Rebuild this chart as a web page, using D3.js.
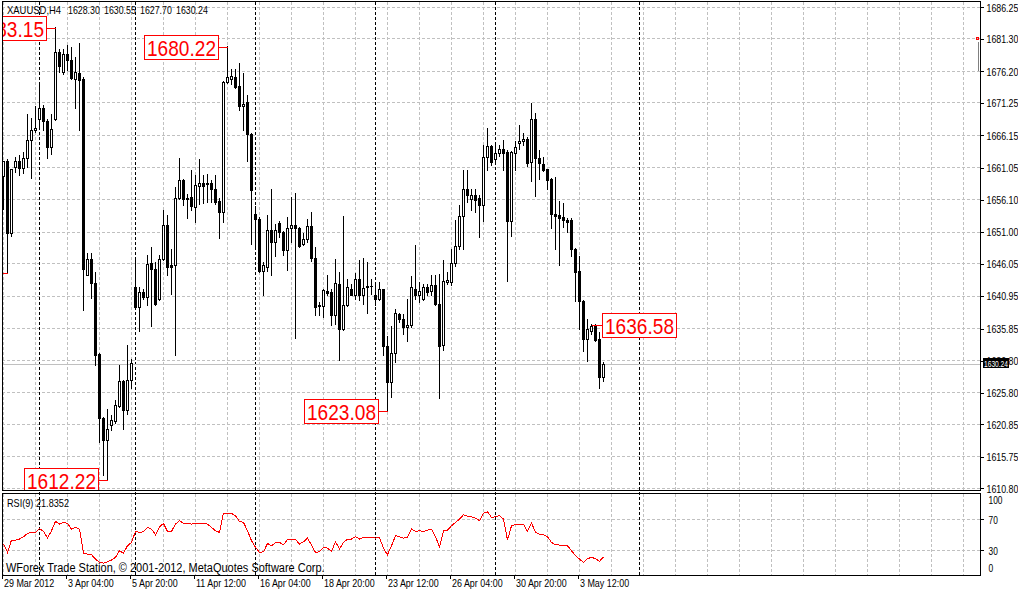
<!DOCTYPE html>
<html>
<head>
<meta charset="utf-8">
<script src="https://cdn.jsdelivr.net/npm/d3@7"></script>
<style>
  body { margin: 0; background: #fff; }
  text { font-family: "Liberation Sans", Arial, sans-serif; }
</style>
</head>
<body>
<svg id="chart" width="1018" height="592"></svg>
<script>
// XAUUSD H4 bars, 29 Mar 2012 12:00 .. 4 May 2012 12:00
let symbolName = "XAUUSD,H4";
let lastQuote = ["1628.30", "1630.55", "1627.70", "1630.24"];

let opens = [1659.74,1662.10,1650.85,1661.21,1662.20,1661.05,1662.67,1665.39,1667.06,1668.79,
  1670.52,1668.37,1664.35,1668.79,1679.25,1676.11,1678.99,1678.05,1675.06,1676.01,
  1674.96,1644.32,1646.83,1643.06,1631.93,1621.89,1618.33,1620.79,1621.31,1623.72,
  1627.59,1623.04,1627.74,1642.38,1639.25,1641.60,1640.82,1646.20,1645.16,1640.45,
  1646.83,1652.06,1645.78,1645.78,1656.35,1659.12,1656.35,1656.45,1654.93,1658.23,
  1658.75,1658.75,1658.75,1657.70,1655.82,1654.15,1674.54,1675.06,1675.33,1673.86,
  1670.78,1671.40,1666.44,1653.89,1653.10,1644.84,1645.52,1651.38,1649.44,1652.48,
  1651.01,1648.14,1651.69,1652.06,1651.69,1649.13,1649.97,1651.90,1646.93,1639.35,
  1639.40,1641.70,1641.60,1638.04,1642.91,1635.85,1639.61,1642.12,1641.18,1643.69,
  1641.08,1642.54,1642.54,1641.08,1640.55,1642.02,1633.13,1627.48,1632.08,1638.20,
  1637.31,1636.11,1636.37,1642.12,1641.18,1640.55,1642.38,1641.70,1642.65,1639.77,
  1633.34,1643.17,1643.17,1646.20,1648.76,1653.47,1657.81,1656.24,1656.87,1656.35,
  1655.19,1662.78,1664.45,1662.41,1663.46,1664.08,1663.56,1652.68,1663.46,1664.97,
  1665.34,1665.65,1661.99,1668.69,1662.62,1661.73,1660.84,1659.27,1653.89,1653.63,
  1653.36,1652.95,1652.84,1648.40,1644.84,1640.14,1634.28,1635.43,1636.21,1634.17,
  1628.30];

let highs = [1662.20,1662.41,1660.95,1662.78,1663.04,1663.56,1669.57,1668.89,1670.72,1674.18,
  1670.88,1668.79,1669.57,1683.15,1679.77,1679.77,1680.29,1680.03,1678.46,1680.71,
  1675.33,1647.77,1647.77,1644.74,1632.08,1621.99,1623.30,1622.25,1624.61,1630.20,
  1627.74,1633.34,1631.14,1646.57,1642.38,1642.12,1647.46,1648.61,1646.31,1647.35,
  1654.41,1653.73,1648.40,1658.07,1662.67,1659.38,1657.02,1660.69,1659.90,1662.41,
  1660.01,1660.16,1659.12,1660.01,1656.35,1674.65,1680.22,1676.63,1676.63,1677.57,
  1676.01,1672.45,1666.59,1655.09,1653.36,1646.31,1653.73,1657.70,1652.32,1652.68,
  1651.12,1653.36,1656.50,1657.18,1651.80,1650.91,1653.10,1654.15,1648.66,1640.03,
  1642.12,1644.21,1642.12,1646.72,1644.74,1653.47,1643.69,1642.91,1644.63,1646.57,
  1646.93,1646.31,1643.69,1643.17,1643.17,1642.12,1634.70,1636.21,1638.98,1638.36,
  1638.20,1640.45,1644.11,1649.02,1643.17,1642.91,1642.91,1644.32,1644.21,1644.48,
  1646.57,1644.74,1648.40,1652.84,1655.19,1660.69,1660.69,1657.70,1657.70,1656.76,
  1664.71,1667.38,1664.61,1664.71,1664.61,1665.50,1663.82,1663.67,1665.23,1667.74,
  1666.59,1665.91,1671.30,1669.73,1663.82,1662.78,1660.95,1659.53,1659.64,1655.82,
  1655.61,1653.21,1653.21,1648.50,1647.25,1640.29,1637.42,1636.58,1636.55,1635.32,
  1630.55];

let lows = [1654.67,1644.74,1650.38,1660.42,1659.90,1660.32,1661.21,1659.48,1666.70,1667.22,
  1666.96,1662.62,1663.30,1668.53,1676.11,1675.85,1676.37,1675.06,1670.46,1666.96,
  1638.72,1644.21,1640.66,1630.20,1618.07,1612.94,1612.22,1619.90,1621.10,1623.56,
  1620.16,1622.51,1626.54,1638.98,1635.43,1640.55,1639.51,1636.27,1639.51,1640.29,
  1646.57,1644.21,1641.34,1631.77,1656.24,1655.19,1653.21,1654.41,1652.58,1655.46,
  1655.61,1655.72,1655.72,1655.46,1650.07,1652.58,1674.44,1674.28,1673.60,1670.10,
  1666.96,1662.15,1649.08,1648.40,1644.74,1641.08,1644.84,1644.32,1647.25,1650.23,
  1647.35,1645.00,1649.44,1634.38,1648.66,1648.92,1649.44,1646.41,1638.04,1637.94,
  1637.68,1641.08,1636.47,1636.63,1630.88,1635.59,1639.40,1641.08,1640.55,1640.29,
  1639.77,1638.36,1641.34,1639.51,1640.29,1631.77,1623.08,1625.13,1630.62,1636.89,
  1635.06,1633.86,1636.11,1640.45,1640.03,1640.29,1641.08,1641.08,1639.61,1624.97,
  1632.45,1642.91,1642.65,1645.68,1648.40,1648.40,1655.72,1654.41,1654.15,1650.23,
  1652.68,1660.69,1661.57,1662.10,1662.93,1660.69,1643.27,1650.38,1660.69,1664.08,
  1664.61,1661.37,1658.96,1656.66,1659.27,1660.53,1657.70,1651.64,1648.29,1645.78,
  1651.80,1651.01,1647.25,1640.14,1635.85,1632.29,1630.72,1635.06,1633.86,1626.54,
  1627.70];

let closes = [1662.10,1650.85,1660.95,1662.20,1661.05,1662.67,1665.39,1667.06,1667.38,1670.52,
  1668.37,1664.35,1667.22,1679.25,1677.05,1678.99,1678.05,1675.17,1676.11,1674.80,
  1645.26,1646.83,1643.06,1631.77,1621.83,1618.33,1620.16,1621.47,1623.82,1627.59,
  1623.04,1627.74,1630.51,1639.25,1641.60,1640.82,1646.04,1645.16,1639.72,1646.83,
  1652.06,1645.52,1645.52,1656.35,1659.22,1656.14,1656.14,1655.09,1658.33,1658.75,
  1658.23,1658.54,1657.81,1655.72,1654.15,1674.54,1675.33,1675.54,1673.76,1670.78,
  1671.14,1666.44,1657.65,1653.10,1644.84,1645.78,1651.38,1649.44,1651.38,1651.01,
  1648.14,1651.69,1652.06,1651.69,1648.82,1649.97,1651.90,1646.93,1639.25,1639.51,
  1641.86,1641.49,1637.94,1643.06,1635.85,1639.61,1642.38,1641.18,1643.69,1641.08,
  1642.23,1642.38,1642.50,1640.55,1642.02,1633.13,1627.48,1632.08,1638.36,1637.42,
  1636.11,1636.47,1642.38,1641.18,1641.70,1642.38,1641.60,1642.65,1639.77,1633.13,
  1643.27,1643.43,1646.20,1648.76,1653.47,1657.81,1656.76,1656.87,1655.98,1655.19,
  1662.78,1664.45,1661.99,1663.40,1664.08,1663.40,1652.68,1663.56,1664.29,1665.34,
  1665.65,1661.84,1668.69,1662.62,1661.84,1660.69,1659.22,1653.78,1653.52,1653.21,
  1652.84,1652.58,1648.40,1644.74,1640.14,1634.28,1635.74,1636.21,1634.02,1628.27,
  1630.24];

let rsiValues = [38.2,27.5,43.4,43.4,44.7,47.7,52.0,53.3,53.3,58.4,
  54.6,45.9,55.4,67.5,64.0,66.6,64.9,57.6,59.7,57.6,
  26.2,25.3,24.5,18.9,14.6,13.7,15.4,17.6,21.0,29.6,
  26.6,36.1,40.4,54.6,53.3,54.1,59.7,57.6,50.3,60.6,
  64.9,54.6,54.6,64.0,68.3,64.9,64.9,64.0,65.3,64.9,
  64.9,64.0,59.7,55.4,53.3,78.2,78.2,77.8,74.8,67.5,
  66.2,55.4,42.5,33.9,27.5,28.3,39.1,36.1,40.0,40.4,
  37.4,44.2,44.7,44.2,38.2,41.2,46.0,36.9,27.5,28.3,
  33.9,33.1,28.8,41.2,31.8,40.4,44.7,44.7,47.7,44.7,
  46.8,46.8,46.8,45.9,46.8,32.6,24.5,36.1,49.0,47.7,
  45.9,46.8,57.6,54.6,55.4,54.6,56.3,57.6,47.7,34.8,
  55.4,56.3,61.9,66.2,70.5,76.1,74.4,73.5,71.8,68.3,
  78.2,80.0,72.6,73.5,74.8,70.5,43.4,61.9,63.2,63.2,
  64.0,54.6,65.3,53.3,51.1,50.3,47.7,40.4,37.4,36.9,
  36.9,36.1,29.6,23.2,18.9,14.6,19.5,21.0,19.5,16.0,
  21.8];
let rsiText = "RSI(9) 21.8352";

let timeLabels = ["29 Mar 2012", "3 Apr 04:00", "5 Apr 20:00", "11 Apr 12:00", "16 Apr 04:00",
  "18 Apr 20:00", "23 Apr 12:00", "26 Apr 04:00", "30 Apr 20:00", "3 May 12:00"];
let timeLabelBars = [0, 16, 32, 48, 64, 80, 96, 112, 128, 144];

let priceTicks = [1686.25, 1681.30, 1676.20, 1671.25, 1666.15, 1661.05, 1656.10, 1651.00,
  1646.05, 1640.95, 1635.85, 1630.80, 1625.80, 1620.85, 1615.75, 1610.80];
let rsiTicks = [100, 70, 30, 0];
let rsiLevels = [70, 30];

// week separators (bar numbers, the last one in the empty future area)
let weekStartBars = [9, 33, 63, 93, 123, 159];

// zigzag swing labels
let swingBars = [1, 13, 26, 56, 96, 147];
let swingPrices = [1644.74, 1683.15, 1612.22, 1680.22, 1623.08, 1636.58];
let swingSides = [-1, -1, -1, -1, -1, 1];

let bidPrice = 1630.24;
let copyright = "WForex Trade Station, \u00a9 2001-2012, MetaQuotes Software Corp.";

let frame = {left: 2, right: 980, top: 1, bottom: 490, subTop: 493, subBottom: 575};

let svg = d3.select("#chart");

let x = d3.scaleLinear().domain([0, 240]).range([3, 963]);
let y = d3.scaleLinear().domain([1610.80, 1686.25]).range([488.3, 7.3]);
let yR = d3.scaleLinear().domain([0, 100]).range([573.7, 496.2]);

function px(v) { return Math.floor(v) + 0.5; }

function condense(sel, k) {
    sel.each(function() {
        let w = this.getComputedTextLength();
        d3.select(this).attr("textLength", (w * k).toFixed(1)).attr("lengthAdjust", "spacingAndGlyphs");
    });
}

svg.append("rect").attr("width", 1018).attr("height", 592).attr("fill", "#fff");

svg.append("defs").append("clipPath").attr("id", "plotClip")
    .append("rect")
    .attr("x", frame.left + 1).attr("y", frame.top + 1)
    .attr("width", frame.right - frame.left - 1).attr("height", frame.bottom - frame.top - 1);

// grid
let grid = svg.append("g")
    .attr("stroke", "#c0c0c0")
    .attr("stroke-dasharray", "3,2")
    .attr("shape-rendering", "crispEdges");

grid.selectAll(".hgrid")
    .data(priceTicks)
    .enter()
    .append("line")
    .attr("x1", frame.left).attr("x2", frame.right)
    .attr("y1", function(d) { return px(y(d)); })
    .attr("y2", function(d) { return px(y(d)); });

grid.selectAll(".rgrid")
    .data(rsiLevels)
    .enter()
    .append("line")
    .attr("x1", frame.left).attr("x2", frame.right)
    .attr("y1", function(d) { return px(yR(d)); })
    .attr("y2", function(d) { return px(yR(d)); });

let gridBars = d3.range(0, 241, 8);
grid.selectAll(".vgrid")
    .data(gridBars)
    .enter()
    .append("path")
    .attr("d", function(d) {
        let gx = x(d) + 0.5;
        return "M" + gx + "," + (frame.top + 1) + "V" + frame.bottom +
            "M" + gx + "," + (frame.subTop + 1) + "V" + frame.subBottom;
    });

// week separators
svg.append("g")
    .attr("stroke", "#000")
    .attr("stroke-dasharray", "3,2")
    .attr("shape-rendering", "crispEdges")
    .selectAll("line")
    .data(weekStartBars)
    .enter()
    .append("line")
    .attr("x1", function(d) { return x(d) + 0.5; })
    .attr("x2", function(d) { return x(d) + 0.5; })
    .attr("y1", frame.top + 1)
    .attr("y2", frame.subBottom);

// bid line
svg.append("line")
    .attr("x1", frame.left).attr("x2", frame.right)
    .attr("y1", px(y(bidPrice))).attr("y2", px(y(bidPrice)))
    .attr("stroke", "#c0c0c0")
    .attr("shape-rendering", "crispEdges");

// candles
let bars = d3.range(opens.length);
let candles = svg.append("g")
    .attr("clip-path", "url(#plotClip)")
    .attr("shape-rendering", "crispEdges");

candles.selectAll(".wick")
    .data(bars)
    .enter()
    .append("rect")
    .attr("x", function(i) { return x(i); })
    .attr("y", function(i) { return Math.round(y(highs[i])); })
    .attr("width", 1)
    .attr("height", function(i) { return Math.round(y(lows[i])) - Math.round(y(highs[i])) + 1; })
    .attr("fill", "#000");

candles.selectAll(".body")
    .data(bars)
    .enter()
    .append("rect")
    .attr("x", function(i) {
        return closes[i] > opens[i] ? x(i) - 0.5 : x(i) - 1;
    })
    .attr("y", function(i) {
        let top = Math.round(y(Math.max(opens[i], closes[i])));
        return closes[i] > opens[i] ? top + 0.5 : top;
    })
    .attr("width", function(i) { return closes[i] > opens[i] ? 2 : 3; })
    .attr("height", function(i) {
        let h = Math.round(y(Math.min(opens[i], closes[i]))) - Math.round(y(Math.max(opens[i], closes[i])));
        return closes[i] > opens[i] ? Math.max(h, 1) : h + 1;
    })
    .attr("fill", function(i) { return closes[i] > opens[i] ? "#fff" : "#000"; })
    .attr("stroke", function(i) { return closes[i] > opens[i] ? "#000" : "none"; });

// RSI line
let rsiLine = d3.line()
    .x(function(d, i) { return x(i) + 0.5; })
    .y(function(d) { return yR(d); });

svg.append("path")
    .datum(rsiValues)
    .attr("d", rsiLine)
    .attr("fill", "none")
    .attr("stroke", "#ff0000")
    .attr("stroke-width", 1)
    .attr("shape-rendering", "crispEdges");

// swing labels
let labels = svg.append("g").attr("clip-path", "url(#plotClip)");
let swings = labels.selectAll(".swing")
    .data(d3.range(swingBars.length))
    .enter()
    .append("g");

function boxLeft(k) {
    let cx = x(swingBars[k]) + 0.5;
    return swingSides[k] < 0 ? cx - 10 - 74 : cx + 10;
}
function boxMid(k) { return Math.round(y(swingPrices[k])) + 1.5; }

swings.append("line")
    .attr("x1", function(k) { return x(swingBars[k]) + 0.5; })
    .attr("x2", function(k) { return swingSides[k] < 0 ? boxLeft(k) + 74 : boxLeft(k); })
    .attr("y1", boxMid).attr("y2", boxMid)
    .attr("stroke", "#ff0000")
    .attr("shape-rendering", "crispEdges");

swings.append("rect")
    .attr("x", function(k) { return Math.round(boxLeft(k)) + 0.5; })
    .attr("y", function(k) { return boxMid(k) - 12; })
    .attr("width", 74).attr("height", 24)
    .attr("fill", "#fff")
    .attr("stroke", "#ff0000")
    .attr("shape-rendering", "crispEdges");

swings.append("text")
    .attr("x", function(k) { return Math.round(boxLeft(k)) + 3; })
    .attr("y", function(k) { return boxMid(k) + 8.5; })
    .attr("font-size", 22)
    .attr("fill", "#ff0000")
    .attr("textLength", 69)
    .attr("lengthAdjust", "spacingAndGlyphs")
    .text(function(k) { return swingPrices[k].toFixed(2); });

// small marker at the right edge
svg.append("line")
    .attr("x1", 978.5).attr("x2", 978.5)
    .attr("y1", px(y(1680.9))).attr("y2", px(y(1676.3)))
    .attr("stroke", "#808080")
    .attr("shape-rendering", "crispEdges");
svg.append("rect")
    .attr("x", 976.5).attr("y", px(y(1681.3)) - 1)
    .attr("width", 2).attr("height", 2)
    .attr("fill", "none")
    .attr("stroke", "#ff0000")
    .attr("shape-rendering", "crispEdges");

// frames
svg.append("rect")
    .attr("x", frame.left + 0.5).attr("y", frame.top + 0.5)
    .attr("width", frame.right - frame.left).attr("height", frame.bottom - frame.top)
    .attr("fill", "none").attr("stroke", "#000")
    .attr("shape-rendering", "crispEdges");
svg.append("rect")
    .attr("x", frame.left + 0.5).attr("y", frame.subTop + 0.5)
    .attr("width", frame.right - frame.left).attr("height", frame.subBottom - frame.subTop)
    .attr("fill", "none").attr("stroke", "#000")
    .attr("shape-rendering", "crispEdges");

// price axis
let yAxis = svg.append("g")
    .attr("transform", "translate(" + (frame.right + 0.5) + ",0)")
    .call(d3.axisRight(y).tickValues(priceTicks).tickSize(3).tickPadding(3).tickFormat(d3.format(".2f")));
yAxis.attr("font-family", null).attr("font-size", 10.5);
yAxis.select(".domain").remove();
yAxis.selectAll("line").attr("shape-rendering", "crispEdges");
yAxis.selectAll("text").attr("fill", "#000").attr("dy", "0.36em").call(condense, 0.84);

// RSI axis
let rAxis = svg.append("g")
    .attr("transform", "translate(" + (frame.right + 0.5) + ",0)")
    .call(d3.axisRight(yR).tickValues(rsiTicks).tickSize(3).tickPadding(5));
rAxis.attr("font-family", null).attr("font-size", 10.5);
rAxis.select(".domain").remove();
rAxis.selectAll("line")
    .attr("shape-rendering", "crispEdges")
    .attr("x2", function(d) { return (d === 70 || d === 30) ? 3 : 0; });
rAxis.selectAll("text")
    .attr("fill", "#000")
    .attr("dy", function(d) { return d === 100 ? "0.68em" : (d === 0 ? "-0.18em" : "0.36em"); })
    .call(condense, 0.8);

// time axis
let xAxis = svg.append("g")
    .attr("transform", "translate(-1," + (frame.subBottom + 0.5) + ")")
    .call(d3.axisBottom(x).tickValues(timeLabelBars).tickSize(3)
        .tickFormat(function(d, i) { return timeLabels[i]; }));
xAxis.attr("font-family", null).attr("font-size", 10.5);
xAxis.select(".domain").remove();
xAxis.selectAll("line").attr("shape-rendering", "crispEdges");
xAxis.selectAll("text")
    .attr("fill", "#000")
    .attr("text-anchor", "start")
    .attr("x", 1.5)
    .attr("y", 11)
    .attr("dy", 0)
    .call(condense, 0.85);

// bid price tag
let bidY = y(bidPrice);
svg.append("rect")
    .attr("x", 983).attr("y", Math.round(bidY) - 6)
    .attr("width", 26).attr("height", 10)
    .attr("fill", "#000");
svg.append("text")
    .attr("x", 984).attr("y", Math.round(bidY) + 2.5)
    .attr("font-size", 9.5)
    .attr("fill", "#fff")
    .attr("textLength", 24)
    .attr("lengthAdjust", "spacingAndGlyphs")
    .text(bidPrice.toFixed(2));

// header texts
svg.append("text")
    .attr("x", 7).attr("y", 14)
    .attr("font-size", 10.5)
    .text(symbolName)
    .call(condense, 0.9);

svg.selectAll(".quote")
    .data(lastQuote)
    .enter()
    .append("text")
    .attr("x", function(d, i) { return 68 + 36 * i; })
    .attr("y", 14)
    .attr("font-size", 10.5)
    .text(function(d) { return d; })
    .call(condense, 0.84);

svg.append("text")
    .attr("x", 7).attr("y", 507)
    .attr("font-size", 10.5)
    .text(rsiText)
    .call(condense, 0.87);

svg.append("text")
    .attr("x", 6).attr("y", 572)
    .attr("font-size", 12.5)
    .text(copyright)
    .call(condense, 0.878);
</script>
</body>
</html>
